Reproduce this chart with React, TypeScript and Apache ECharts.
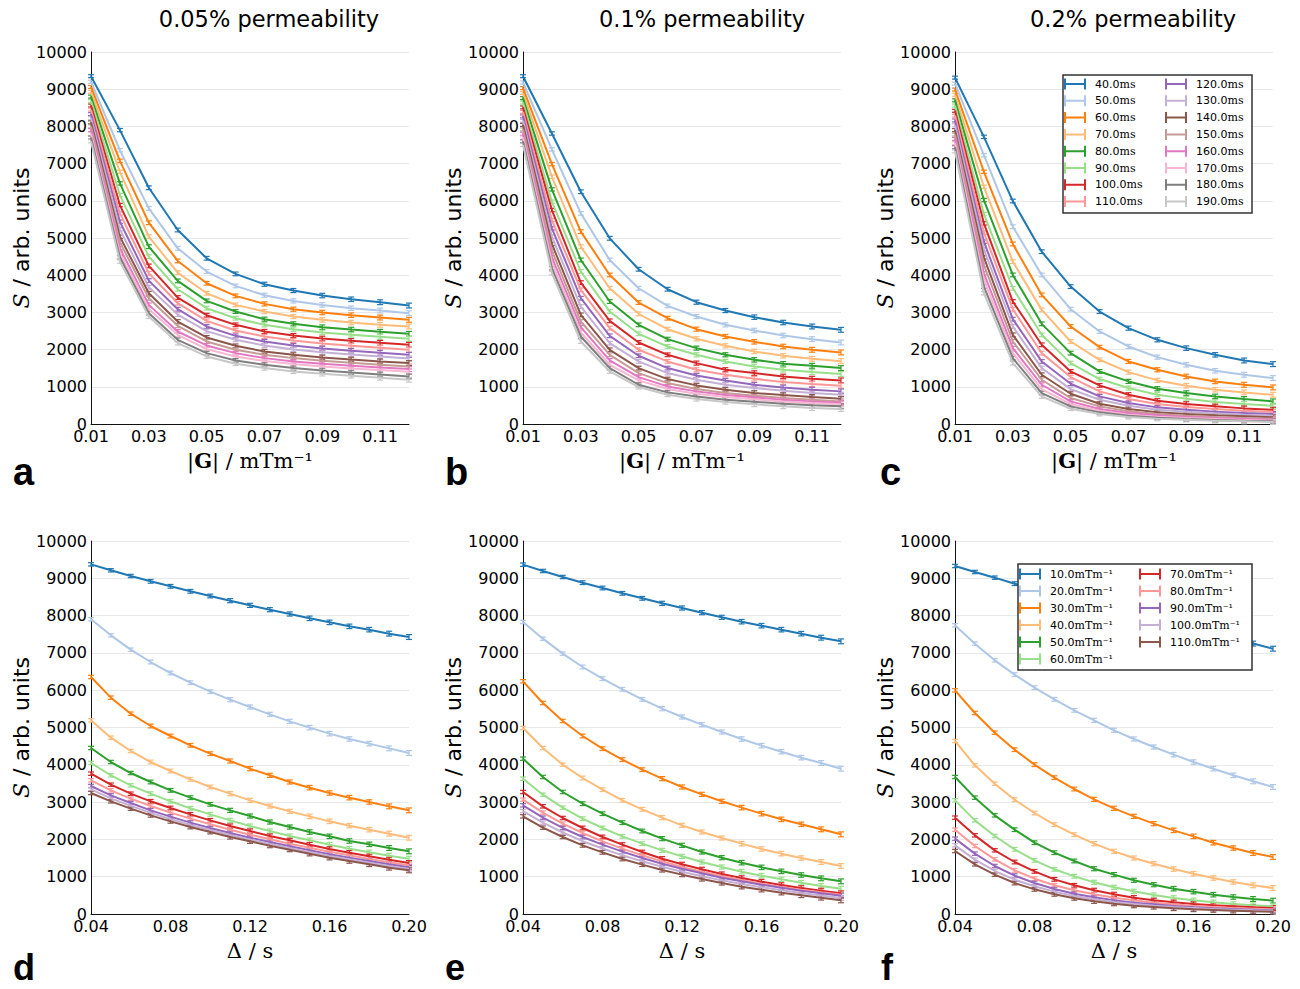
import React, { useEffect, useRef } from 'react';
import * as echarts from 'echarts';

const PANEL_TITLES = ['0.05% permeability', '0.1% permeability', '0.2% permeability'];
const PANEL_LETTERS = ['a', 'b', 'c', 'd', 'e', 'f'];

const TOP_NAMES = ['40.0ms', '50.0ms', '60.0ms', '70.0ms', '80.0ms', '90.0ms', '100.0ms', '110.0ms',
  '120.0ms', '130.0ms', '140.0ms', '150.0ms', '160.0ms', '170.0ms', '180.0ms', '190.0ms'];
const BOTTOM_NAMES = ['10.0mTm⁻¹', '20.0mTm⁻¹', '30.0mTm⁻¹', '40.0mTm⁻¹', '50.0mTm⁻¹', '60.0mTm⁻¹',
  '70.0mTm⁻¹', '80.0mTm⁻¹', '90.0mTm⁻¹', '100.0mTm⁻¹', '110.0mTm⁻¹'];

const COLORS = ['#1f77b4', '#aec7e8', '#ff7f0e', '#ffbb78', '#2ca02c', '#98df8a', '#d62728', '#ff9896',
  '#9467bd', '#c5b0d5', '#8c564b', '#c49c94', '#e377c2', '#f7b6d2', '#7f7f7f', '#c7c7c7'];

const G_VALUES = [0.01, 0.02, 0.03, 0.04, 0.05, 0.06, 0.07, 0.08, 0.09, 0.10, 0.11, 0.12];
const DELTA_VALUES = [0.04, 0.05, 0.06, 0.07, 0.08, 0.09, 0.10, 0.11, 0.12, 0.13, 0.14, 0.15, 0.16, 0.17, 0.18, 0.19, 0.20];
const G_TICKS = [0.01, 0.03, 0.05, 0.07, 0.09, 0.11];
const DELTA_TICKS = [0.04, 0.08, 0.12, 0.16, 0.20];

const ERR_G = [40, 45, 50, 50, 50, 50, 55, 55, 60, 60, 65, 65];
const ERR_DELTA = [45, 45, 45, 50, 50, 50, 50, 55, 55, 55, 55, 60, 60, 60, 60, 65, 65];

// Panel a: 0.05% permeability, S vs |G|, one row per diffusion time
const PANEL_A = [
  [9350, 7900, 6350, 5215, 4455, 4035, 3757, 3587, 3453, 3354, 3274, 3184],
  [9200, 7360, 5796, 4723, 4097, 3712, 3462, 3309, 3202, 3113, 3050, 2979],
  [9060, 7075, 5411, 4383, 3784, 3444, 3229, 3086, 2996, 2925, 2862, 2800],
  [8930, 6780, 5036, 4070, 3515, 3202, 3023, 2889, 2800, 2728, 2666, 2621],
  [8800, 6467, 4767, 3846, 3309, 3023, 2818, 2692, 2603, 2540, 2478, 2424],
  [8680, 6154, 4499, 3622, 3113, 2844, 2666, 2549, 2460, 2397, 2343, 2290],
  [8560, 5885, 4249, 3399, 2925, 2666, 2487, 2379, 2299, 2236, 2182, 2129],
  [8450, 5662, 4052, 3247, 2773, 2513, 2352, 2245, 2164, 2101, 2048, 1995],
  [8330, 5438, 3855, 3086, 2621, 2370, 2218, 2111, 2030, 1968, 1914, 1860],
  [8220, 5233, 3676, 2943, 2496, 2263, 2111, 2004, 1932, 1869, 1816, 1762],
  [8110, 5036, 3515, 2755, 2326, 2102, 1950, 1860, 1789, 1735, 1682, 1637],
  [8000, 4884, 3381, 2639, 2218, 1995, 1860, 1771, 1700, 1646, 1592, 1547],
  [7900, 4723, 3202, 2487, 2111, 1905, 1771, 1682, 1619, 1565, 1521, 1476],
  [7800, 4589, 3086, 2397, 2012, 1816, 1691, 1610, 1547, 1494, 1449, 1404],
  [7700, 4481, 2979, 2263, 1905, 1708, 1592, 1503, 1440, 1386, 1333, 1279],
  [7600, 4365, 2889, 2174, 1816, 1619, 1503, 1413, 1351, 1297, 1243, 1190],
];

const PANEL_B = [
  [9350, 7809, 6243, 4991, 4159, 3623, 3274, 3050, 2871, 2728, 2621, 2531],
  [9180, 7380, 5662, 4410, 3649, 3175, 2889, 2666, 2513, 2379, 2281, 2191],
  [9030, 6986, 5170, 4007, 3265, 2844, 2549, 2352, 2209, 2084, 1995, 1923],
  [8900, 6646, 4767, 3649, 2961, 2549, 2290, 2102, 1950, 1834, 1753, 1690],
  [8760, 6306, 4410, 3292, 2666, 2281, 2039, 1860, 1726, 1619, 1565, 1503],
  [8640, 5975, 4097, 3023, 2424, 2084, 1860, 1682, 1547, 1458, 1395, 1342],
  [8510, 5751, 3801, 2773, 2191, 1860, 1637, 1458, 1369, 1279, 1216, 1172],
  [8390, 5483, 3605, 2576, 1995, 1682, 1458, 1324, 1216, 1127, 1073, 1029],
  [8270, 5259, 3381, 2370, 1834, 1503, 1306, 1172, 1055, 984, 921, 877],
  [8150, 5036, 3157, 2174, 1682, 1369, 1190, 1055, 966, 894, 832, 787],
  [8040, 4839, 2934, 1995, 1503, 1208, 1038, 921, 832, 778, 725, 680],
  [7920, 4660, 2755, 1860, 1369, 1100, 939, 832, 760, 698, 653, 608],
  [7800, 4481, 2603, 1708, 1261, 1011, 877, 778, 716, 653, 608, 572],
  [7700, 4338, 2460, 1592, 1172, 939, 814, 725, 662, 608, 564, 528],
  [7600, 4186, 2352, 1503, 1055, 850, 742, 653, 599, 546, 501, 474],
  [7500, 4052, 2218, 1413, 993, 787, 671, 590, 528, 474, 429, 403],
];

const PANEL_C = [
  [9311, 7719, 5993, 4633, 3694, 3023, 2576, 2263, 2039, 1860, 1708, 1610],
  [9150, 7227, 5304, 4007, 3086, 2487, 2084, 1798, 1592, 1431, 1324, 1234],
  [8990, 6780, 4839, 3470, 2621, 2066, 1682, 1458, 1279, 1145, 1055, 984],
  [8850, 6377, 4365, 3068, 2218, 1726, 1395, 1172, 1029, 921, 850, 787],
  [8700, 6020, 4007, 2692, 1905, 1413, 1145, 948, 832, 742, 671, 608],
  [8560, 5644, 3649, 2397, 1637, 1208, 966, 787, 680, 590, 537, 492],
  [8420, 5394, 3292, 2129, 1413, 1038, 787, 626, 537, 474, 420, 385],
  [8290, 5143, 3086, 1905, 1261, 877, 671, 537, 456, 403, 358, 322],
  [8160, 4902, 2818, 1682, 1082, 742, 564, 447, 385, 331, 295, 268],
  [8030, 4696, 2621, 1503, 939, 653, 492, 385, 331, 286, 250, 224],
  [7900, 4481, 2397, 1324, 814, 546, 403, 313, 268, 233, 206, 179],
  [7780, 4275, 2218, 1190, 698, 474, 340, 268, 224, 188, 161, 143],
  [7660, 4052, 2039, 1055, 608, 403, 295, 233, 188, 161, 134, 116],
  [7550, 3873, 1905, 939, 537, 358, 250, 197, 161, 134, 107, 89],
  [7440, 3694, 1771, 832, 474, 313, 224, 170, 134, 107, 89, 72],
  [7330, 3515, 1637, 742, 411, 268, 188, 143, 116, 89, 72, 54],
];

// Panel d: 0.05% permeability, S vs Delta, one row per gradient strength
const PANEL_D = [
  [9374, 9214, 9062, 8919, 8785, 8651, 8526, 8400, 8275, 8159, 8043, 7927, 7819, 7712, 7623, 7516, 7426],
  [7900, 7471, 7087, 6756, 6461, 6202, 5961, 5746, 5550, 5353, 5165, 4996, 4835, 4692, 4567, 4441, 4316],
  [6354, 5800, 5371, 5040, 4772, 4522, 4298, 4102, 3896, 3718, 3539, 3387, 3244, 3119, 3003, 2886, 2779],
  [5192, 4727, 4370, 4075, 3834, 3610, 3405, 3226, 3047, 2895, 2752, 2618, 2484, 2368, 2261, 2154, 2046],
  [4450, 4075, 3780, 3539, 3315, 3119, 2940, 2779, 2627, 2466, 2332, 2198, 2082, 1957, 1868, 1769, 1680],
  [4048, 3718, 3449, 3226, 3021, 2833, 2672, 2511, 2359, 2225, 2091, 1975, 1859, 1752, 1653, 1564, 1483],
  [3762, 3467, 3226, 3021, 2842, 2672, 2511, 2359, 2225, 2091, 1975, 1859, 1743, 1644, 1546, 1457, 1367],
  [3584, 3315, 3092, 2895, 2717, 2556, 2404, 2261, 2127, 2002, 1886, 1778, 1671, 1573, 1475, 1385, 1305],
  [3432, 3181, 2976, 2779, 2610, 2449, 2306, 2172, 2046, 1930, 1814, 1707, 1600, 1510, 1421, 1332, 1251],
  [3340, 3100, 2900, 2710, 2545, 2390, 2250, 2118, 1996, 1880, 1770, 1662, 1555, 1466, 1376, 1287, 1210],
  [3244, 3021, 2824, 2645, 2484, 2332, 2198, 2064, 1948, 1832, 1725, 1618, 1510, 1421, 1332, 1242, 1171],
];

const PANEL_E = [
  [9366, 9196, 9035, 8883, 8740, 8597, 8463, 8329, 8204, 8079, 7954, 7837, 7730, 7623, 7516, 7408, 7310],
  [7828, 7382, 6980, 6622, 6309, 6023, 5755, 5505, 5282, 5076, 4879, 4692, 4513, 4352, 4191, 4048, 3896],
  [6238, 5657, 5174, 4772, 4433, 4138, 3869, 3628, 3405, 3208, 3021, 2851, 2690, 2538, 2404, 2270, 2136],
  [4987, 4450, 4004, 3646, 3333, 3047, 2806, 2583, 2377, 2198, 2037, 1886, 1743, 1618, 1501, 1394, 1287],
  [4164, 3673, 3271, 2958, 2690, 2449, 2225, 2020, 1841, 1662, 1510, 1376, 1251, 1144, 1046, 956, 876],
  [3628, 3199, 2851, 2556, 2306, 2082, 1886, 1707, 1546, 1394, 1260, 1135, 1028, 929, 840, 751, 679],
  [3271, 2887, 2574, 2306, 2064, 1859, 1662, 1483, 1332, 1198, 1072, 965, 867, 777, 697, 626, 554],
  [3065, 2717, 2422, 2172, 1948, 1752, 1573, 1412, 1260, 1135, 1019, 912, 813, 724, 652, 581, 518],
  [2913, 2583, 2306, 2064, 1859, 1671, 1501, 1349, 1215, 1090, 974, 876, 786, 706, 626, 554, 492],
  [2760, 2450, 2185, 1952, 1756, 1573, 1412, 1265, 1135, 1014, 902, 804, 719, 639, 563, 496, 430],
  [2618, 2315, 2064, 1841, 1653, 1475, 1323, 1180, 1055, 938, 831, 733, 652, 572, 500, 438, 366],
];

const PANEL_F = [
  [9330, 9169, 9017, 8856, 8704, 8561, 8409, 8275, 8141, 8007, 7873, 7757, 7632, 7516, 7400, 7250, 7113],
  [7739, 7248, 6801, 6417, 6068, 5755, 5460, 5192, 4924, 4692, 4477, 4272, 4075, 3896, 3718, 3557, 3405],
  [5996, 5389, 4861, 4406, 4004, 3655, 3351, 3074, 2833, 2618, 2422, 2243, 2082, 1912, 1769, 1635, 1528],
  [4638, 3986, 3494, 3065, 2708, 2395, 2127, 1886, 1680, 1501, 1349, 1206, 1081, 965, 858, 769, 697],
  [3673, 3119, 2645, 2261, 1912, 1644, 1421, 1215, 1055, 903, 786, 679, 599, 518, 456, 402, 357],
  [3047, 2511, 2091, 1734, 1439, 1198, 1010, 849, 715, 608, 509, 429, 366, 313, 268, 232, 206],
  [2583, 2109, 1707, 1394, 1144, 929, 769, 635, 527, 438, 366, 313, 268, 232, 206, 179, 161],
  [2261, 1823, 1466, 1171, 947, 769, 635, 527, 438, 366, 304, 259, 214, 188, 161, 143, 125],
  [2020, 1618, 1287, 1028, 831, 670, 545, 447, 366, 304, 259, 214, 179, 152, 134, 116, 98],
  [1841, 1457, 1153, 920, 742, 599, 483, 393, 322, 268, 223, 188, 161, 134, 116, 98, 89],
  [1689, 1332, 1055, 831, 661, 527, 420, 340, 277, 223, 188, 152, 125, 107, 89, 71, 63],
];

const H_ICON = 'path://M0,0h2v11h-2zM2,4.5h18v2h-18zM20,0h2v11h-2z';

function buildOption() {
  const panels = [
    { rows: PANEL_A, xs: G_VALUES, names: TOP_NAMES, err: ERR_G, top: true },
    { rows: PANEL_B, xs: G_VALUES, names: TOP_NAMES, err: ERR_G, top: true },
    { rows: PANEL_C, xs: G_VALUES, names: TOP_NAMES, err: ERR_G, top: true },
    { rows: PANEL_D, xs: DELTA_VALUES, names: BOTTOM_NAMES, err: ERR_DELTA, top: false },
    { rows: PANEL_E, xs: DELTA_VALUES, names: BOTTOM_NAMES, err: ERR_DELTA, top: false },
    { rows: PANEL_F, xs: DELTA_VALUES, names: BOTTOM_NAMES, err: ERR_DELTA, top: false },
  ];
  const lefts = [91, 523, 955];
  const grids: any[] = [];
  const xAxes: any[] = [];
  const yAxes: any[] = [];
  const series: any[] = [];

  panels.forEach((p, k) => {
    const col = k % 3;
    grids.push({ left: lefts[col], top: p.top ? 52 : 541, width: 318, height: p.top ? 372 : 373 });
    const ticks = p.top ? G_TICKS : DELTA_TICKS;
    xAxes.push({
      type: 'value', gridIndex: k,
      min: p.xs[0], max: p.xs[p.xs.length - 1],
      name: p.top ? '|{b|G}| / mTm⁻¹' : 'Δ / s',
      nameLocation: 'middle', nameGap: 26,
      nameTextStyle: {
        fontFamily: 'DejaVu Serif', fontSize: 21, color: '#000',
        rich: { b: { fontFamily: 'DejaVu Serif', fontSize: 21, fontWeight: 'bold', color: '#000' } },
      },
      axisLine: { show: true, onZero: false, lineStyle: { color: '#111', width: 1 } },
      axisTick: { show: false },
      splitLine: { show: false },
      axisLabel: {
        customValues: ticks, fontSize: 16, fontFamily: 'DejaVu Sans', color: '#000', margin: 4,
        formatter: (v: number) => v.toFixed(2), showMinLabel: true, showMaxLabel: true,
      },
    });
    yAxes.push({
      type: 'value', gridIndex: k, min: 0, max: 10000, interval: 1000,
      name: '{i|S} / arb. units', nameLocation: 'middle', nameGap: 58, nameRotate: 90,
      nameTextStyle: {
        fontFamily: 'DejaVu Sans', fontSize: 22, color: '#000',
        rich: { i: { fontFamily: 'DejaVu Serif', fontStyle: 'italic', fontSize: 22, color: '#000' } },
      },
      axisLine: { show: true, lineStyle: { color: '#111', width: 1 } },
      axisTick: { show: false },
      splitLine: { show: true, lineStyle: { color: '#e8e8e8', width: 1 } },
      axisLabel: { fontSize: 16, fontFamily: 'DejaVu Sans', color: '#000', margin: 4, formatter: (v: number) => String(v) },
    });
    p.rows.forEach((row, i) => {
      series.push({
        type: 'line', name: p.names[i], xAxisIndex: k, yAxisIndex: k,
        data: p.xs.map((x, j) => [x, row[j]]),
        symbol: 'none', showSymbol: false, silent: true, z: 2,
        lineStyle: { color: COLORS[i], width: 2 }, itemStyle: { color: COLORS[i] },
      });
    });
    const errData: number[][] = [];
    p.rows.forEach((row, i) => row.forEach((y, j) => errData.push([p.xs[j], y, p.err[j], i])));
    series.push({
      type: 'custom', name: 'errorbars' + k, xAxisIndex: k, yAxisIndex: k, silent: true, z: 2,
      data: errData, encode: { x: 0, y: 1 },
      renderItem: (params: any, api: any) => {
        const x = api.value(0), y = api.value(1), e = api.value(2), ci = api.value(3);
        const t = api.coord([x, y + e]);
        const b = api.coord([x, y - e]);
        const c = COLORS[ci];
        const w = 3;
        const st = { stroke: c, lineWidth: 1.2 };
        return {
          type: 'group',
          children: [
            { type: 'line', shape: { x1: t[0], y1: t[1], x2: b[0], y2: b[1] }, style: st },
            { type: 'line', shape: { x1: t[0] - w, y1: t[1], x2: t[0] + w, y2: t[1] }, style: st },
            { type: 'line', shape: { x1: b[0] - w, y1: b[1], x2: b[0] + w, y2: b[1] }, style: st },
          ],
        };
      },
    });
  });

  const legendCommon = {
    orient: 'vertical', icon: H_ICON, itemWidth: 30, itemHeight: 11, itemGap: 5.8, padding: 0,
    selectedMode: false, z: 8, itemStyle: { borderWidth: 0 },
    textStyle: {
      fontFamily: 'DejaVu Sans', fontSize: 11, lineHeight: 11, color: '#000',
      rich: { u: { fontFamily: 'DejaVu Serif', fontSize: 11, lineHeight: 11, color: '#000' } },
    },
    formatter: (name: string) => {
      const m = name.match(/^([\d.]+)(.*)$/);
      return m ? m[1] + '{u|' + m[2] + '}' : name;
    },
  };

  const legends = [
    { ...legendCommon, data: TOP_NAMES.slice(0, 8), left: 1064, top: 78.5 },
    { ...legendCommon, data: TOP_NAMES.slice(8), left: 1165, top: 78.5 },
    { ...legendCommon, data: BOTTOM_NAMES.slice(0, 6), left: 1019, top: 568.5, itemGap: 6 },
    { ...legendCommon, data: BOTTOM_NAMES.slice(6), left: 1139, top: 568.5, itemGap: 6 },
  ];

  const titleCenters = [269, 702, 1133];
  const letterX = [13, 445, 880, 13, 445, 881];
  const graphics: any[] = [];
  PANEL_TITLES.forEach((t, i) => {
    graphics.push({
      type: 'text', x: titleCenters[i], y: 19, z: 10,
      style: { text: t, fontSize: 22.5, fontFamily: 'DejaVu Sans', fill: '#000', textAlign: 'center', textVerticalAlign: 'middle' },
    });
  });
  PANEL_LETTERS.forEach((l, i) => {
    graphics.push({
      type: 'text', x: letterX[i], y: i < 3 ? 472 : 967, z: 10,
      style: {
        text: l, fontSize: i < 3 ? 38 : 36, lineHeight: 30, fontWeight: 'bold', fontFamily: 'Liberation Sans',
        fill: '#000', textVerticalAlign: 'middle',
      },
    });
  });
  graphics.push({
    type: 'rect', z: 6, shape: { x: 1063, y: 75, width: 189, height: 138 },
    style: { fill: '#fff', stroke: '#333', lineWidth: 1.5 },
  });
  graphics.push({
    type: 'rect', z: 6, shape: { x: 1018, y: 564, width: 234, height: 106 },
    style: { fill: '#fff', stroke: '#333', lineWidth: 1.5 },
  });

  return {
    animation: false,
    backgroundColor: '#fff',
    grid: grids,
    xAxis: xAxes,
    yAxis: yAxes,
    legend: legends,
    graphic: { elements: graphics },
    series,
  };
}

export default function App() {
  const ref = useRef<HTMLDivElement>(null);
  useEffect(() => {
    if (!ref.current) return;
    const chart = echarts.init(ref.current, undefined, { renderer: 'svg' });
    chart.setOption(buildOption() as any);
    return () => chart.dispose();
  }, []);
  return <div ref={ref} style={{ position: 'absolute', left: 0, top: 0, width: 1300, height: 989 }} />;
}
